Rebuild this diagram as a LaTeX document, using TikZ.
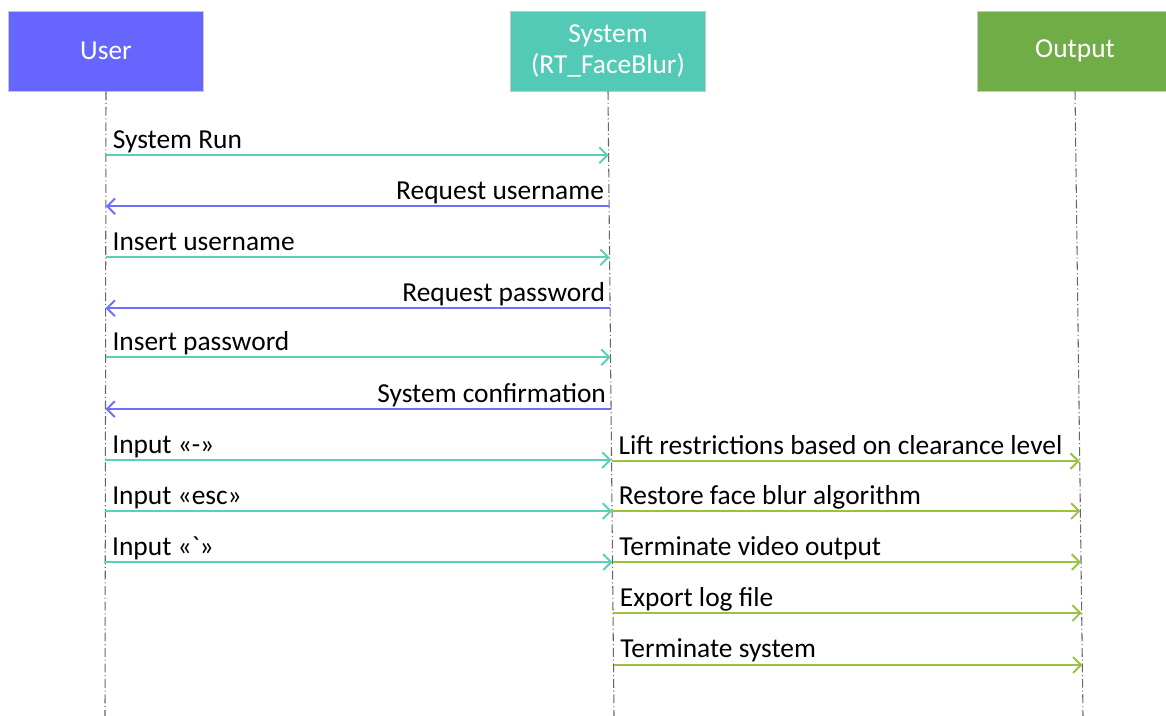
\documentclass[tikz,border=0pt]{standalone}
\usepackage{fontspec}
\setmainfont{Carlito}
\usetikzlibrary{arrows.meta,calc}
\definecolor{userblue}{HTML}{6666FF}
\definecolor{systeal}{HTML}{52CAB5}
\definecolor{outgreen}{HTML}{70AD47}
\definecolor{callteal}{HTML}{5AD0B9}
\definecolor{replyblue}{HTML}{6E6EFF}
\definecolor{outcall}{HTML}{9BC23F}
\begin{document}
\begin{tikzpicture}[x=0.2mm,y=-0.2mm,font=\fontsize{15.6}{17.6}\selectfont,
  head/.style={draw=black!22,fill=#1,text=white,minimum width=39mm,minimum height=16mm,align=center,inner sep=0pt},
  life/.style={draw=black!60,line width=0.6pt,dash pattern=on 5pt off 1.6pt on 0.6pt off 1.6pt},
  msg/.style={draw=#1,line width=1.1pt,-{Straight Barb[length=4.5pt,width=9pt]}},
  lblr/.style={pos=0,anchor=base west,inner sep=0pt,xshift=3.4pt,yshift=4pt},
  lbll/.style={pos=0,anchor=base east,inner sep=0pt,xshift=-2.4pt,yshift=4pt}]
\useasboundingbox (0,0) rectangle (1166,716);
% participants and their lifelines
\node[head=userblue] (user) at (106,51) {User};
\node[head=systeal] (sys) at (608,51) {System\\(RT\_FaceBlur)};
\node[head=outgreen] (out) at (1075,51) {Output};
\coordinate (userEnd) at (105,716);
\coordinate (sysEnd) at (614,716);
\coordinate (outEnd) at (1083,716);
\draw[life] (user.south) -- (userEnd);
\draw[life] (sys.south) -- (sysEnd);
\draw[life] (out.south) -- (outEnd);
% user -> system
\foreach \y/\txt in {155/System Run,257/Insert username,357/Insert password,
    460/Input «-»,511/Input «esc»,562/Input «\textasciigrave»}
  \draw[msg=callteal] ($(user.south)!{(\y-91)/625}!(userEnd)$) -- node[lblr] {\txt}
    ($(sys.south)!{(\y-91)/625}!(sysEnd)$);
% system -> user
\foreach \y/\txt in {206/Request username,308/Request password,409/System confirmation}
  \draw[msg=replyblue] ($(sys.south)!{(\y-91)/625}!(sysEnd)$) -- node[lbll] {\txt}
    ($(user.south)!{(\y-91)/625}!(userEnd)$);
% system -> output
\foreach \y/\txt in {461/Lift restrictions based on clearance level,511/Restore face blur algorithm,
    562/Terminate video output,613/Export log file,665/Terminate system}
  \draw[msg=outcall] ($(sys.south)!{(\y-91)/625}!(sysEnd)$) -- node[lblr] {\txt}
    ($(out.south)!{(\y-91)/625}!(outEnd)$);
\end{tikzpicture}
\end{document}
